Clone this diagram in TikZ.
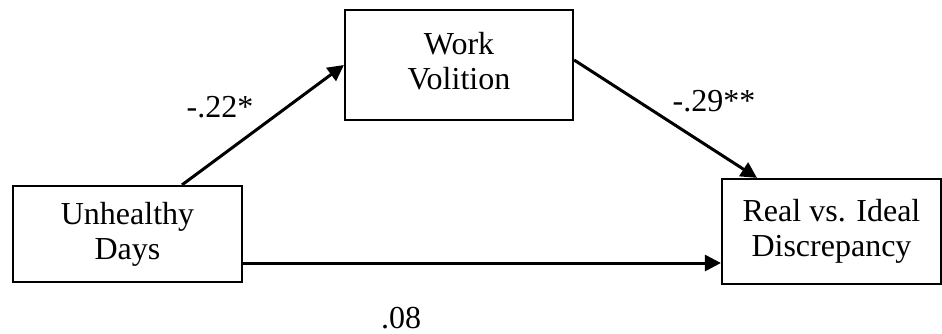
\documentclass[tikz,border=0pt]{standalone}
\usepackage{fontspec}
\setmainfont{Liberation Serif}
\usetikzlibrary{arrows.meta}
\begin{document}
\begin{tikzpicture}[x=0.5pt,y=-0.5pt,
  varbox/.style={draw, line width=1.1pt, align=center, inner sep=0pt,
    font=\fontsize{16}{17.5}\selectfont},
  path/.style={line width=1.5pt, -{Triangle[length=8pt,width=8pt]}},
  lbl/.style={font=\fontsize{16}{17.5}\selectfont, inner sep=0pt}]
\useasboundingbox (0,0) rectangle (942,333);
\node[varbox, minimum width=114.5pt, minimum height=48pt] (ud) at (127.5,234) {Unhealthy\\Days};
\node[varbox, minimum width=114pt, minimum height=55pt] (wv) at (459,65) {};
\node[font=\fontsize{16}{17.5}\selectfont, align=center, inner sep=0pt] (wvt) at (459,61) {Work\\Volition};
\node[varbox, minimum width=109.5pt, minimum height=52.5pt] (ri) at (831.5,231.5) {Real vs. Ideal\\Discrepancy};
\draw[path] ([xshift=27.25pt]ud.north) -- (wv.west);
\draw[path] ([yshift=2.5pt]wv.east) -- ([xshift=-37.25pt]ri.north);
\draw[path] ([yshift=-14.5pt]ud.east) -- ([yshift=-14.5pt]ud.east -| ri.west);
\node[lbl] (l1) at (220,107) {-.22*};
\node[lbl] (l2) at (714,101) {-.29**};
\node[lbl] (l3) at (401,318) {.08};
\end{tikzpicture}
\end{document}
